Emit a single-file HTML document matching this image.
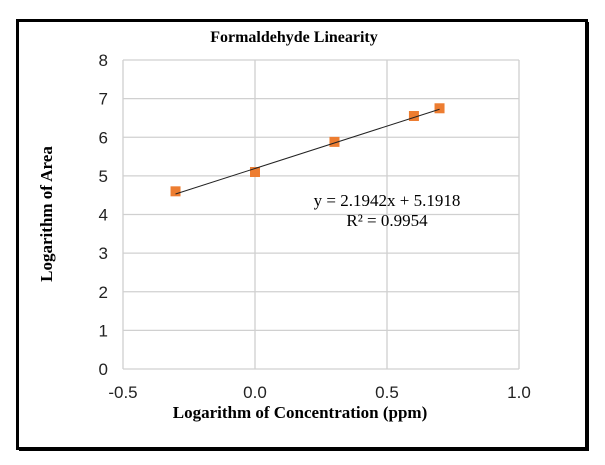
<!DOCTYPE html>
<html><head><meta charset="utf-8"><style>
body{margin:0;background:#fff;width:605px;height:465px;overflow:hidden}
svg{display:block}
</style></head><body>
<svg id="chart" width="605" height="465" xmlns="http://www.w3.org/2000/svg">
<rect x="17.5" y="20.5" width="569" height="428" fill="#fff" stroke="#000" stroke-width="3"/>
<line x1="588" y1="22" x2="588" y2="450" stroke="#000" stroke-width="2"/>
<line x1="19" y1="450" x2="589" y2="450" stroke="#000" stroke-width="2"/>
<text x="294" y="42" text-anchor="middle" font-family="Liberation Serif, serif" font-weight="bold" font-size="16">Formaldehyde Linearity</text>
<g id="grid"></g>
<g id="ticks"></g>
<g id="marks"></g>
<text x="300" y="418" text-anchor="middle" font-family="Liberation Serif, serif" font-weight="bold" font-size="17">Logarithm of Concentration (ppm)</text>
<text transform="translate(52,214) rotate(-90)" text-anchor="middle" font-family="Liberation Serif, serif" font-weight="bold" font-size="17">Logarithm of Area</text>
<text x="387" y="206" text-anchor="middle" font-family="Liberation Serif, serif" font-size="17">y = 2.1942x + 5.1918</text>
<text x="387" y="226" text-anchor="middle" font-family="Liberation Serif, serif" font-size="17">R² = 0.9954</text>
</svg>
<script>
const xValues = [-0.301, 0, 0.301, 0.602, 0.699];
const yValues = [4.6, 5.1, 5.88, 6.55, 6.75];
const xTicks = [-0.5, 0, 0.5, 1.0];
const xTickLabels = ["-0.5", "0.0", "0.5", "1.0"];
const yTicks = [0,1,2,3,4,5,6,7,8];
const slope = 2.1942, intercept = 5.1918;
const NS="http://www.w3.org/2000/svg";
const L=123,R=519,T=60,B=369;
const sx=v=>L+(v+0.5)/1.5*(R-L);
const sy=v=>B-v/8*(B-T);
function mk(tag,attrs,parent){const e=document.createElementNS(NS,tag);for(const k in attrs)e.setAttribute(k,attrs[k]);parent.appendChild(e);return e;}
const grid=document.getElementById('grid'),ticks=document.getElementById('ticks'),marks=document.getElementById('marks');
yTicks.forEach(v=>{
 const l=mk('line',{x1:L,x2:R,y1:sy(v),y2:sy(v),stroke:'#d0d0d0','stroke-width':1.3},grid);
 
 
 const t=mk('text',{x:108,y:sy(v)+6,'text-anchor':'end','font-family':'Liberation Sans, sans-serif','font-size':17,fill:'#222'},ticks);
 t.textContent=v;
 
 
});
xTicks.forEach((v,i)=>{
 const l=mk('line',{x1:sx(v),x2:sx(v),y1:T,y2:B,stroke:'#d0d0d0','stroke-width':1.3},grid);
 
 
 const t=mk('text',{x:sx(v),y:398,'text-anchor':'middle','font-family':'Liberation Sans, sans-serif','font-size':17,fill:'#222'},ticks);
 t.textContent=xTickLabels[i];
 
 
});
const x0=Math.min(...xValues),x1=Math.max(...xValues);
const tl=mk('line',{x1:sx(x0),y1:sy(slope*x0+intercept),x2:sx(x1),y2:sy(slope*x1+intercept),stroke:'#222','stroke-width':1},marks);


xValues.forEach((x,i)=>{
 const r=mk('rect',{x:sx(x)-5,y:sy(yValues[i])-5,width:10,height:10,fill:'#ED7D31'},marks);
 
 
});
marks.appendChild(tl);
</script>
</body></html>
